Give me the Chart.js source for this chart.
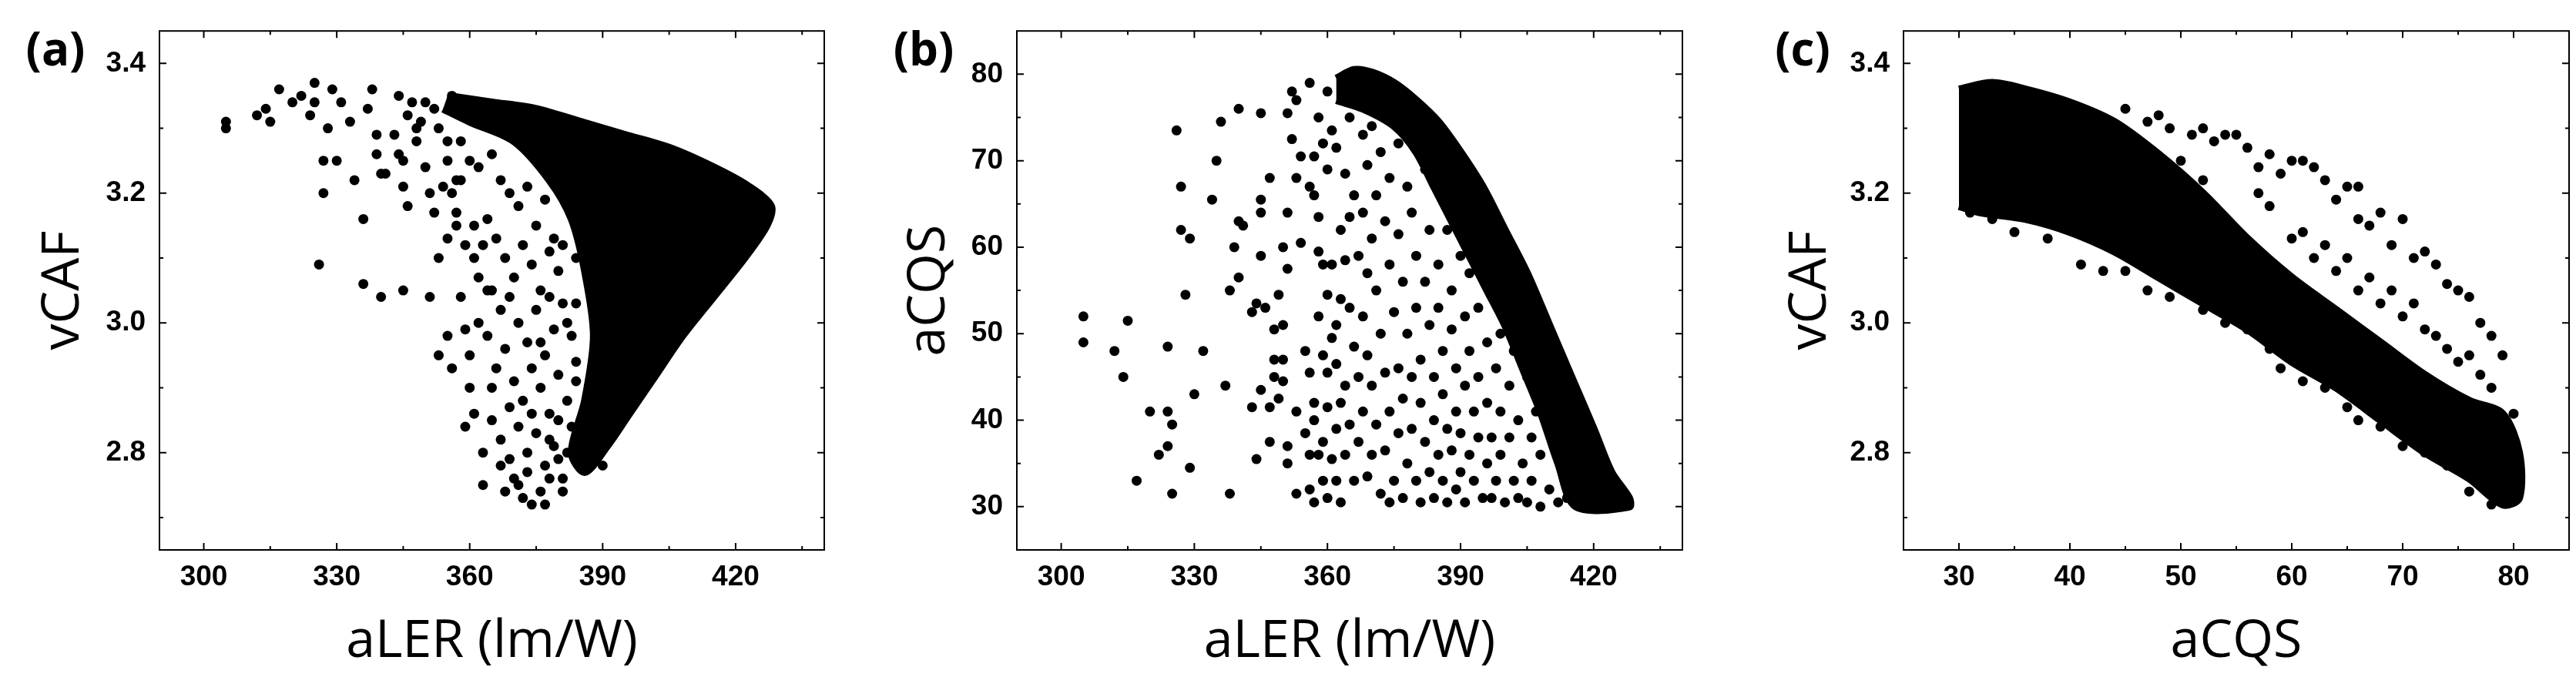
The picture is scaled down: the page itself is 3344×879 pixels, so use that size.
<!DOCTYPE html>
<html><head><meta charset="utf-8">
<script src="https://cdn.jsdelivr.net/npm/chart.js@4"></script>
<style>
body{margin:0;background:#fff;width:3344px;height:879px;position:relative;overflow:hidden}
.pn{position:absolute;width:1115px;height:879px;top:0}
.lab{position:absolute;font-family:'Open Sans',sans-serif;font-weight:700;font-size:60px;color:#000;transform:translate(-50%,-50%)}
</style></head><body>
<div class="pn" style="left:0"><canvas id="ca"></canvas></div>
<div class="pn" style="left:1114px"><canvas id="cb"></canvas></div>
<div class="pn" style="left:2229px"><canvas id="cc"></canvas></div>
<div class="lab" style="left:72px;top:62px">(a)</div>
<div class="lab" style="left:1199px;top:62px">(b)</div>
<div class="lab" style="left:2340px;top:62px">(c)</div>
<script>
const lerTicks=[300,330,360,390,420];
const lerMinor=[315,345,375,405,435];
const cafTicks=[2.8,3.0,3.2,3.4];
const cafMinor=[2.7,2.9,3.1,3.3];
const cqsYTicks=[30,40,50,60,70,80];
const cqsYMinor=[35,45,55,65,75];
const cqsXTicks=[30,40,50,60,70,80];
const cqsXMinor=[35,45,55,65,75];

// panel (a): aLER vs vCAF
const aDense=[[355,3.35],[365,3.34],[375,3.33],[385,3.31],[395,3.29],[405,3.27],[415,3.24],[423,3.21],[428,3.18],[427,3.15],[422,3.10],[415,3.04],[408,2.98],[402,2.92],[396,2.86],[391,2.81],[386,2.77],[383,2.80],[386,2.88],[388,2.98],[386,3.08],[383,3.16],[378,3.22],[370,3.28],[360,3.31],[354,3.33]];
const aPts=[[305,3.30],[305,3.31],[312,3.32],[314,3.33],[315,3.31],[317,3.36],[320,3.34],[322,3.35],[324,3.32],[325,3.34],[325,3.37],[327,3.25],[327,3.20],[326,3.09],[328,3.30],[329,3.36],[330,3.25],[331,3.34],[333,3.31],[334,3.22],[336,3.16],[336,3.06],[337,3.33],[338,3.36],[339,3.29],[339,3.26],[340,3.04],[340,3.23],[341,3.23],[343,3.29],[344,3.26],[344,3.35],[345,3.05],[345,3.21],[345,3.25],[346,3.18],[347,3.34],[348,3.28],[349,3.31],[350,3.24],[351,3.20],[351,3.04],[352,3.17],[353,2.95],[353,3.10],[354,3.21],[355,2.98],[355,3.13],[356,2.93],[357,3.15],[358,3.04],[358,3.22],[359,2.84],[359,2.99],[360,2.95],[361,2.86],[362,3.00],[363,2.80],[363,2.75],[364,3.05],[365,2.90],[367,2.78],[368,2.74],[370,2.76],[372,2.73],[374,2.72],[377,2.72],[381,2.74],
[356,3.35],[358,3.34],[361,3.33],[363,3.32],[366,3.30],[368,3.29],[372,3.30],[375,3.28],[358,3.28],[360,3.25],[362,3.24],[365,3.26],[367,3.22],[369,3.20],[371,3.18],[373,3.21],[375,3.15],[377,3.19],[379,3.13],[364,3.16],[366,3.13],[368,3.10],[370,3.07],[372,3.12],[374,3.09],[376,3.05],[378,3.11],[380,3.08],[361,3.10],[362,3.07],[365,3.05],[367,3.02],[369,3.04],[371,3.00],[373,2.97],[375,3.02],[377,2.95],[379,2.99],[381,3.03],[383,2.98],[364,2.98],[366,2.93],[368,2.96],[370,2.91],[372,2.88],[374,2.93],[376,2.90],[378,2.86],[380,2.92],[382,2.88],[384,2.94],[365,2.85],[367,2.82],[369,2.87],[371,2.84],[373,2.80],[375,2.83],[377,2.78],[379,2.81],[381,2.76],[383,2.84],[369,2.79],[371,2.75],[373,2.77],[376,2.74],[378,2.76],[380,2.79],[360,2.90],[361,3.15],[357,3.17],[356,3.20],[359,3.12],[363,3.12],[384,3.10],[386,3.18],[388,3.20],[390,3.05],[392,2.95],[394,2.90],[389,2.85],[395,2.93],[398,2.95],[400,2.98],[390,2.78],[387,2.82],[385,2.80],[387,2.90],[389,3.00],[390,3.12],[392,3.22],[385,3.25],[380,3.24],[382,3.20],[353,3.30],[352,3.33],[355,3.28],[348,3.30],[346,3.32],[350,3.34],[355,3.25],[357,3.22],[382,3.00],[384,2.91],[380,2.85],[378,2.82],[382,2.80],[374,2.86],[376,2.97],[378,3.04],[381,3.12],[384,3.03]];

// panel (b): aLER vs aCQS
const bDense=[[362,79.5],[366,80.5],[370,80.2],[375,79],[380,77],[385,74.5],[390,71],[395,67],[400,62],[405,57],[410,51],[415,45],[420,39],[424,34],[428,31],[428,30],[416,30],[412,35],[408,41],[404,46],[400,51],[396,55],[392,59],[388,63],[384,67],[380,71],[375,74],[368,76],[362,77]];
const bPts=[[305,52],[305,49],[312,48],[314,45],[315,51.5],[317,33],[320,41],[322,36],[324,48.5],[324,41],[324,37],[325,39.5],[325,31.5],[326,73.5],[327,67],[327,62],[328,54.5],[329,61],[329,34.5],[330,43],[332,48],[334,65.5],[335,70],[336,74.5],[337,44],[338,55],[338,31.5],[339,60],[340,63],[340,56.5],[340,76],[341,62.5],[343,41.5],[343,52.5],[344,53.5],[344,35.5],[345,75.5],[345,65.5],[345,64],[345,59],[345,43.5],[346,53],[347,68],[347,41.5],[347,37.5],[348,50.5],[348,47],[348,45],[349,54.5],[349,42.5],[350,60],[350,51],[350,47],[350,44.5],[351,57.5],[351,75.5],[351,64],[351,37],[351,35],[352,72.5],[352,78],[353,77],[353,68],[353,41],[353,31.5],[354,60.5],[354,70.5],[355,48],[355,38.5],[356,79],[356,67],[356,45.5],[356,36],[356,32],[357,66],[357,70.5],[357,42],[357,40],[357,30.5],[358,75],[358,63.5],[358,59.5],[358,52],[358,36],[359,72],[359,58],[359,47.5],[359,37.5],[359,33],[360,78],[360,69],[360,54.5],[360,45.5],[360,41.5],[360,31],[361,73.5],[361,58],[361,49.5],[361,35.5],[362,71.5],[362,51],[362,46.5],[362,39],[362,33],[363,62],[363,54],[363,42],[363,30.5],[364,68.5],[364,58.5],[364,44],[364,36],[365,75],[365,63.5],[365,53],[365,39.5],[366,66],[366,48.5],[366,33],[367,59],[367,45],[367,37.5],[368,73],[368,64],[368,52],[368,41],[369,69.5],[369,57],[369,47.5],[369,33.5],[370,74],[370,61],[370,44],[370,36],[371,66],[371,55],[371,39.5],[372,71],[372,50],[372,31.5],[373,63],[373,45.5],[373,36.5],[374,68],[374,58],[374,41],[374,30.5],[375,52.5],[375,33],[376,72],[376,61.5],[376,46],[376,38.5],[377,56],[377,42.5],[377,31],[378,67],[378,50],[378,35],[379,64],[379,45],[379,39],[380,59],[380,53],[380,33],[381,47],[381,42],[381,30.5],[382,69],[382,56],[382,37.5],[383,62],[383,51],[383,34],[384,45],[384,40],[384,31],[385,58],[385,53],[385,36],[386,48],[386,43],[386,33],[387,62],[387,39],[387,30.5],[388,55],[388,50.5],[388,36.5],[389,46],[389,41],[389,32],[390,59],[390,38.5],[390,34],[391,52],[391,44],[391,30.5],[392,57],[392,48],[392,36],[393,41],[393,33],[394,53],[394,45],[394,38],[395,31],[396,49],[396,42],[396,35],[397,55],[397,38],[397,31],[398,46],[398,33],[399,50],[399,41],[399,36],[400,30.5],[400,53],[401,44],[401,38],[402,33],[402,48],[403,40],[403,31],[404,35],[405,45],[405,30.5],[406,38],[406,33],[407,41],[408,30],[408,36],[409,44],[410,32],[411,38],[412,30.5],[413,35],[414,31],[415,37],[416,33],[417,30.5],[418,34],[419,31],[421,30.5],[423,32],[425,30.5],[427,30.2]];

// panel (c): aCQS vs vCAF
const cDense=[[30,3.36],[33,3.37],[36,3.36],[40,3.34],[44,3.31],[48,3.26],[52,3.20],[56,3.13],[60,3.07],[64,3.02],[68,2.97],[72,2.92],[76,2.88],[79,2.86],[80.5,2.80],[80.5,2.73],[79,2.72],[76,2.76],[72,2.80],[68,2.85],[64,2.90],[60,2.94],[56,2.99],[52,3.03],[48,3.07],[44,3.11],[40,3.14],[36,3.16],[32,3.17],[30,3.18]];
const cPts=[[45,3.33],[47,3.31],[48,3.32],[49,3.30],[51,3.29],[52,3.30],[53,3.28],[54,3.29],[55,3.29],[56,3.27],[57,3.24],[58,3.26],[59,3.23],[60,3.25],[61,3.25],[62,3.24],[63,3.22],[64,3.19],[65,3.21],[66,3.21],[66,3.16],[67,3.15],[68,3.17],[69,3.12],[70,3.16],[71,3.10],[72,3.11],[73,3.09],[74,3.06],[75,3.05],[76,3.04],[77,3.00],[78,2.98],[79,2.95],[80,2.86],[57,3.20],[58,3.18],[60,3.13],[61,3.14],[62,3.10],[63,3.12],[64,3.08],[65,3.10],[66,3.05],[67,3.07],[68,3.03],[69,3.05],[70,3.01],[71,3.03],[72,2.99],[73,2.98],[74,2.96],[75,2.94],[76,2.95],[77,2.92],[78,2.90],[56,3.10],[55,3.14],[53,3.18],[52,3.22],[50,3.25],[49,3.21],[41,3.09],[43,3.08],[45,3.08],[47,3.05],[49,3.04],[52,3.02],[54,3.00],[56,2.99],[58,2.96],[59,2.93],[61,2.91],[63,2.90],[65,2.87],[66,2.85],[68,2.84],[70,2.81],[72,2.80],[74,2.78],[76,2.74],[78,2.72],[33,3.16],[31,3.17],[35,3.14],[38,3.13]];

const tickFont={family:"'Liberation Sans Narrow','Arial Narrow',sans-serif",weight:'bold',size:37};
const titleFont={family:"'Open Sans',sans-serif",size:68};
const toXY=a=>a.map(p=>({x:p[0],y:p[1]}));

const framePlugin={id:'frame',afterDraw(ch,args,o){
  const c=ch.ctx,a=ch.chartArea,xs=ch.scales.x,ys=ch.scales.y;
  c.save();c.strokeStyle='#000';c.lineWidth=2;
  c.strokeRect(a.left,a.top,a.right-a.left,a.bottom-a.top);
  const tk=(vals,len)=>{
    vals.forEach(v=>{const px=xs.getPixelForValue(v);
      c.beginPath();c.moveTo(px,a.bottom);c.lineTo(px,a.bottom-len);c.moveTo(px,a.top);c.lineTo(px,a.top+len);c.stroke();});};
  const tky=(vals,len)=>{
    vals.forEach(v=>{const py=ys.getPixelForValue(v);
      c.beginPath();c.moveTo(a.left,py);c.lineTo(a.left+len,py);c.moveTo(a.right,py);c.lineTo(a.right-len,py);c.stroke();});};
  tk(o.xT,9);tk(o.xM,5);tky(o.yT,9);tky(o.yM,5);
  c.restore();}};

function make(id,cfg){
  const fixTicks=(arr)=>function(s){s.ticks=arr.map(v=>({value:v}));};
  new Chart(document.getElementById(id),{
    type:'scatter',
    data:{datasets:[
      {data:toXY(cfg.dense),showLine:true,fill:'shape',backgroundColor:'#000',borderColor:'#000',borderWidth:10,pointRadius:0,tension:0.3},
      {data:toXY(cfg.pts),backgroundColor:'#000',borderColor:'#000',pointRadius:6.5,borderWidth:0}
    ]},
    plugins:[framePlugin],
    options:{responsive:false,animation:false,devicePixelRatio:1,
      layout:{padding:{left:0,right:cfg.rp,top:40,bottom:0}},
      plugins:{legend:{display:false},tooltip:{enabled:false},frame:{xT:cfg.xT,xM:cfg.xM,yT:cfg.yT,yM:cfg.yM}},
      scales:{
        x:{type:'linear',min:cfg.xr[0],max:cfg.xr[1],grid:{display:false,drawTicks:false},border:{display:false},
          afterBuildTicks:fixTicks(cfg.xT),afterFit(s){s.height=165;},
          ticks:{font:tickFont,color:'#000',padding:14,maxRotation:0,autoSkip:false},
          title:{display:true,text:cfg.xt,font:titleFont,color:'#000',padding:{top:0,bottom:5}}},
        y:{type:'linear',min:cfg.yr[0],max:cfg.yr[1],grid:{display:false,drawTicks:false},border:{display:false},
          afterBuildTicks:fixTicks(cfg.yT),afterFit(s){s.width=cfg.lw;},
          ticks:{font:tickFont,color:'#000',padding:18,autoSkip:false,callback:cfg.yfmt},
          title:{display:true,text:cfg.yt,font:titleFont,color:'#000',padding:{top:cfg.tp,bottom:0}}}
      }}
  });
}
const c=document.querySelectorAll('canvas');c.forEach(e=>{e.width=1115;e.height=879;});
const f1=v=>v.toFixed(1), f0=v=>String(v);
make('ca',{dense:aDense,pts:aPts,xr:[290,440],yr:[2.65,3.45],xT:lerTicks,xM:lerMinor,yT:cafTicks,yM:cafMinor,xt:'aLER (lm/W)',yt:'vCAF',lw:207,rp:45,tp:42,yfmt:f1});
make('cb',{dense:bDense,pts:bPts,xr:[290,440],yr:[25,85],xT:lerTicks,xM:lerMinor,yT:cqsYTicks,yM:cqsYMinor,xt:'aLER (lm/W)',yt:'aCQS',lw:206,rp:45,tp:52,yfmt:f0});
make('cc',{dense:cDense,pts:cPts,xr:[25,85],yr:[2.65,3.45],xT:cqsXTicks,xM:cqsXMinor,yT:cafTicks,yM:cafMinor,xt:'aCQS',yt:'vCAF',lw:242,rp:9,tp:81,yfmt:f1});
</script></body></html>
